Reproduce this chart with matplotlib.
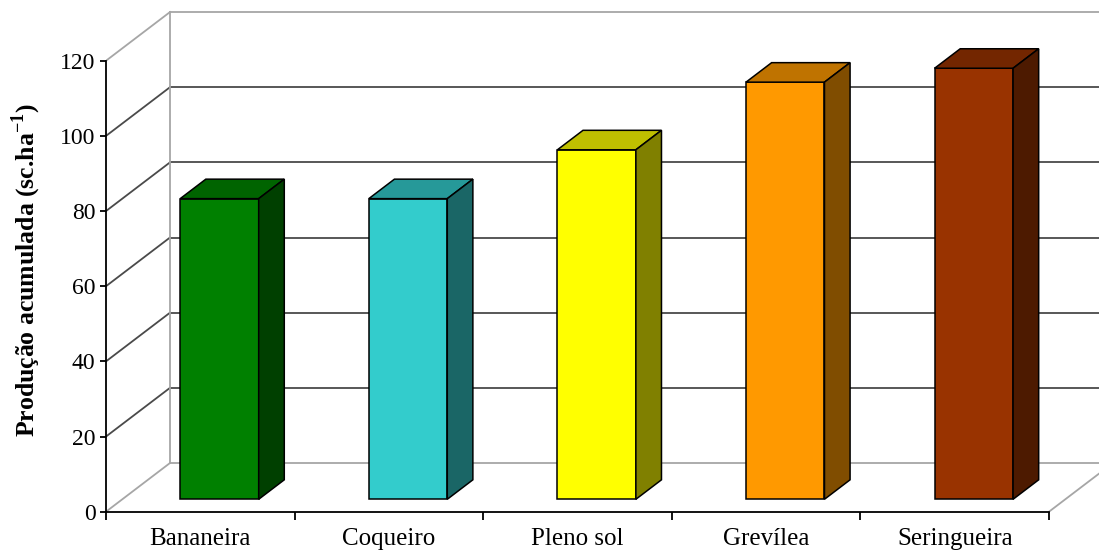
import matplotlib
matplotlib.use("Agg")
import matplotlib.pyplot as plt
from matplotlib.patches import Polygon

# accumulated production per shading system
categories = ["Bananeira", "Coqueiro", "Pleno sol", "Grevílea", "Seringueira"]
producao = [80, 80, 93, 111, 114.7]
yticks = [0, 20, 40, 60, 80, 100, 120]

front_colors = ["#008000", "#33CCCC", "#FFFF00", "#FF9900", "#993300"]
top_colors = ["#006400", "#269999", "#BFBF00", "#BF7300", "#732600"]
side_colors = ["#004000", "#1A6666", "#808000", "#804D00", "#4D1A00"]

plt.rcParams["font.family"] = ["Liberation Serif", "DejaVu Serif"]
plt.rcParams["mathtext.fontset"] = "custom"
plt.rcParams["mathtext.rm"] = "Liberation Serif"
plt.rcParams["mathtext.bf"] = "Liberation Serif:bold"

W, H = 1099, 554
fig = plt.figure(figsize=(W / 100, H / 100), dpi=100)

# axes frame: front axis at x=106px, floor at y=511.7px
x0px, y0px, top_px = 106, 511.7, 8
ax = fig.add_axes([x0px / W, (H - y0px) / H, 1 - x0px / W, (y0px - top_px) / H])

cat_px = 188.6
unit_px = 3.758
ax.set_xlim(0, (W - x0px) / cat_px)
ax.set_ylim(0, (y0px - top_px) / unit_px)

# wall depth in data units (oblique projection)
DX = 64 / cat_px
DY = 48.7 / unit_px
n = len(categories)
ymax = yticks[-1]
xr = ax.get_xlim()[1]

dark = "#4a4a4a"
light = "#a6a6a6"

# back wall gridlines and side-wall diagonals
for v in yticks:
    c = light if v in (0, ymax) else dark
    ax.plot([DX, xr], [v + DY, v + DY], color=c, lw=1.3, zorder=1)
    ax.plot([0, DX], [v, v + DY], color=c, lw=1.3, zorder=1)
ax.plot([DX, DX], [DY, ymax + DY], color=light, lw=1.3, zorder=1)
ax.plot([n, n + DX], [0, DY], color=light, lw=1.3, zorder=1)

# 3D-looking columns
bw = 0.416
f0, depth = 0.255, 0.4
bdx, bdy = depth * DX, depth * DY
for i, h in enumerate(producao):
    bx = i + 0.5 - bw / 2 + f0 * DX + 0.015
    by = f0 * DY
    front = Polygon([(bx, by), (bx + bw, by), (bx + bw, by + h), (bx, by + h)],
                    closed=True, fc=front_colors[i], ec="black", lw=1.1, zorder=3)
    top = Polygon([(bx, by + h), (bx + bw, by + h), (bx + bw + bdx, by + h + bdy),
                   (bx + bdx, by + h + bdy)],
                  closed=True, fc=top_colors[i], ec="black", lw=1.1, zorder=3)
    side = Polygon([(bx + bw, by), (bx + bw + bdx, by + bdy), (bx + bw + bdx, by + h + bdy),
                    (bx + bw, by + h)],
                   closed=True, fc=side_colors[i], ec="black", lw=1.1, zorder=3)
    for p in (front, top, side):
        ax.add_patch(p)

# axes spines and ticks
for s in ("top", "right"):
    ax.spines[s].set_visible(False)
ax.spines["left"].set_bounds(0, ymax)
ax.spines["bottom"].set_bounds(0, n)
for s in ("left", "bottom"):
    ax.spines[s].set_linewidth(1.3)
    ax.spines[s].set_zorder(4)

ax.set_yticks(yticks)
ax.tick_params(axis="y", direction="out", length=4.5, width=1.3, pad=3, labelsize=17)
ax.set_xticks(range(n + 1))
ax.set_xticklabels([])
ax.set_xticks([i + 0.5 for i in range(n)], minor=True)
ax.set_xticklabels(categories, minor=True, fontsize=18)
ax.tick_params(axis="x", which="major", direction="out", length=6, width=1.3)
ax.tick_params(axis="x", which="minor", length=0, pad=12)

ax.set_ylabel(r"Produção acumulada (sc.ha$^{\mathbf{-1}}$)", fontsize=18.5, fontweight="bold")
ax.yaxis.set_label_coords(-0.0634, 0.48)

fig.savefig("out.png", dpi=100)
